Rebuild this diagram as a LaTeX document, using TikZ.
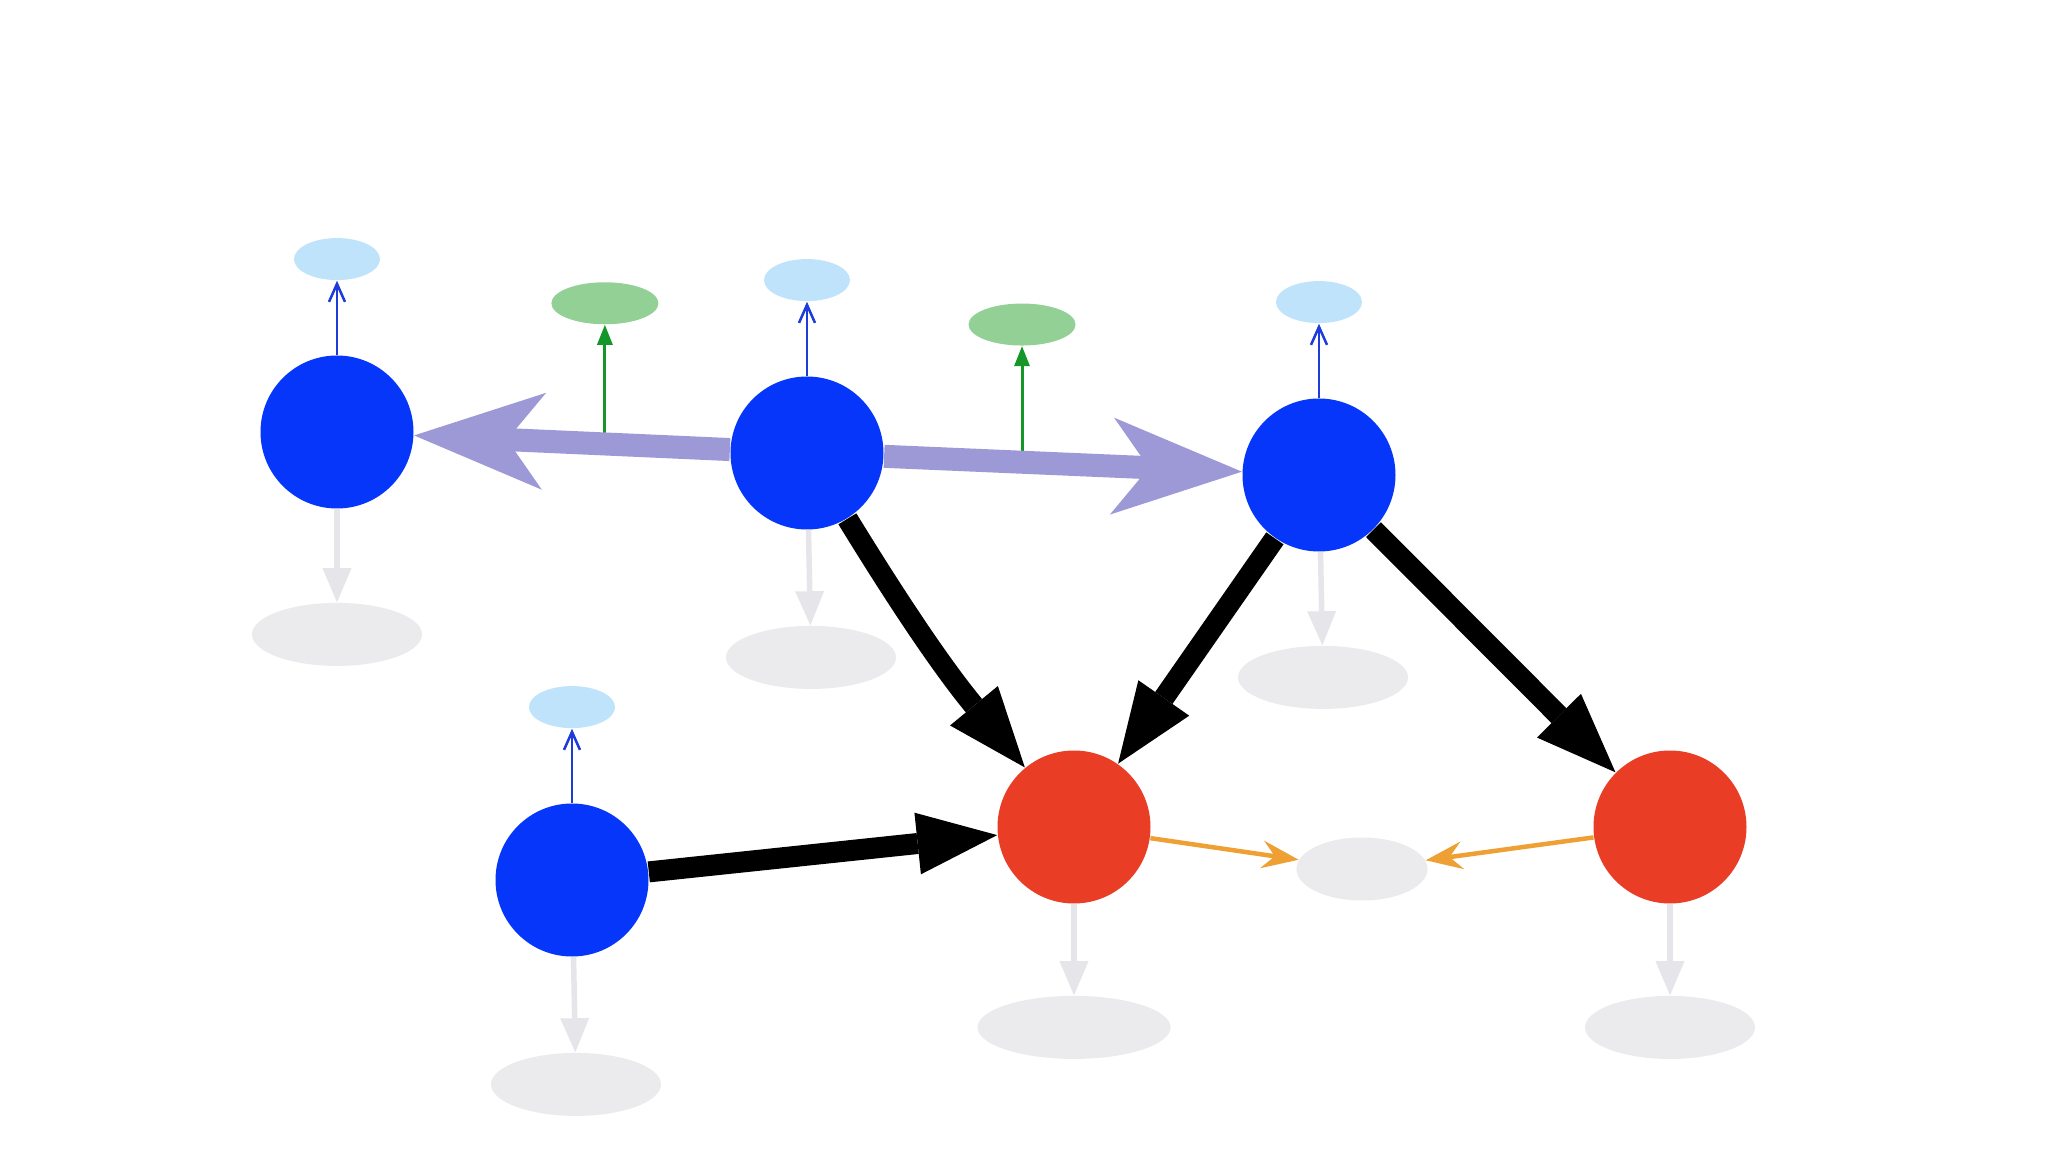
\documentclass[tikz,border=0pt]{standalone}
\usetikzlibrary{arrows.meta,positioning,shapes.geometric,calc}
\definecolor{nodeblue}{RGB}{5,54,250}
\definecolor{nodered}{RGB}{233,61,37}
\definecolor{skyblue}{RGB}{190,227,250}
\definecolor{leafgreen}{RGB}{147,208,149}
\definecolor{mist}{RGB}{235,235,237}
\definecolor{lavender}{RGB}{157,152,214}
\definecolor{amber}{RGB}{238,160,52}
\definecolor{arrowblue}{RGB}{30,60,220}
\definecolor{arrowgreen}{RGB}{20,150,40}
\definecolor{arrowgray}{RGB}{230,230,234}

\begin{document}
\begin{tikzpicture}
  \tikzstyle{nodeB}=[circle,fill=nodeblue,minimum size=15.3mm,inner sep=0pt]
  \tikzstyle{nodeR}=[circle,fill=nodered,minimum size=15.3mm,inner sep=0pt]
  \tikzstyle{nodeS}=[ellipse,fill=skyblue,minimum width=8.6mm,minimum height=4.2mm,inner sep=0pt]
  \tikzstyle{nodeG}=[ellipse,fill=leafgreen,minimum width=10.7mm,minimum height=4.2mm,inner sep=0pt]
  \tikzstyle{nodeM}=[ellipse,fill=mist,minimum width=17mm,minimum height=6.3mm,inner sep=0pt]
  \tikzstyle{edgeL}=[draw=lavender,line width=2.3mm,-{Stealth[length=13mm,width=9.7mm,inset=3.7mm,line width=0pt]}]
  \tikzstyle{edgeK}=[draw=black,line width=2.1mm,-{Triangle[length=8mm,width=6.2mm,line width=0pt]}]
  \tikzstyle{edgeO}=[draw=amber,line width=0.45mm,-{Stealth[length=3.7mm,width=2.8mm,inset=1.3mm,line width=0pt]}]
  \tikzstyle{edgeW}=[draw=arrowgray,line width=0.55mm,-{Triangle[length=3.4mm,width=2.9mm,line width=0pt]}]
  \tikzstyle{edgeS}=[draw=arrowblue,line width=0.25mm,-{Straight Barb[length=1.8mm,width=1.6mm]}]
  \tikzstyle{edgeG}=[draw=arrowgreen,line width=0.3mm,-{Triangle[length=2mm,width=1.6mm,line width=0pt]}]

  \fill[white] (0,0) rectangle (20.48,-11.52);
  \useasboundingbox (0,0) rectangle (20.48,-11.52);

  % Original nodes
  \node[nodeB] (b_1) at (3.37,-4.32) {};
  \node[nodeB] (b_2) at (8.07,-4.53) {};
  \node[nodeB] (b_3) at (13.19,-4.75) {};
  \node[nodeB] (b_4) at (5.72,-8.80) {};
  \node[nodeR] (r_1) at (10.74,-8.27) {};
  \node[nodeR] (r_2) at (16.70,-8.27) {};

  % small ones on top
  \node[nodeS] (s_1) [above=7.4mm of b_1] {};
  \node[nodeS] (s_2) [above=7.4mm of b_2] {};
  \node[nodeS] (s_3) [above=7.4mm of b_3] {};
  \node[nodeS] (s_4) [above=7.4mm of b_4] {};

  % grey ones below
  \node[nodeM] (m_1) [below=9.3mm of b_1] {};
  \node[nodeM, xshift=0.4mm] (m_2) [below=9.5mm of b_2] {};
  \node[nodeM, xshift=0.4mm] (m_3) [below=9.3mm of b_3] {};
  \node[nodeM, xshift=0.4mm] (m_4) [below=9.5mm of b_4] {};
  \node[nodeM, minimum width=19.3mm] (m_5) [below=9.1mm of r_1] {};
  \node[nodeM] (m_6) [below=9.1mm of r_2] {};
  \node[nodeM, minimum width=13.1mm] (m_7) at (13.62,-8.69) {};

  % edge midpoints
  \coordinate (c_1) at ($(b_2)!0.43!(b_1)$);
  \coordinate (c_2) at ($(b_2)!0.42!(b_3)$);
  \node[nodeG] (g_1) [above=11.9mm of c_1] {};
  \node[nodeG] (g_2) [above=11.6mm of c_2] {};

  \path (c_1) edge[edgeG] (g_1)
        (c_2) edge[edgeG] (g_2);
  \path (b_2) edge[edgeL] (b_1)
              edge[edgeL] (b_3);

  \path (b_2) edge[edgeK, bend right=4] (r_1)
        (b_3) edge[edgeK] (r_1)
              edge[edgeK] (r_2)
        (b_4) edge[edgeK] (r_1);

  \path (r_1) edge[edgeO] (m_7)
        (r_2) edge[edgeO] (m_7);

  \foreach \i in {1,...,4} {
    \path (b_\i) edge[edgeS] (s_\i)
                 edge[edgeW] (m_\i);
  }
  \path (r_1) edge[edgeW] (m_5)
        (r_2) edge[edgeW] (m_6);
\end{tikzpicture}
\end{document}
